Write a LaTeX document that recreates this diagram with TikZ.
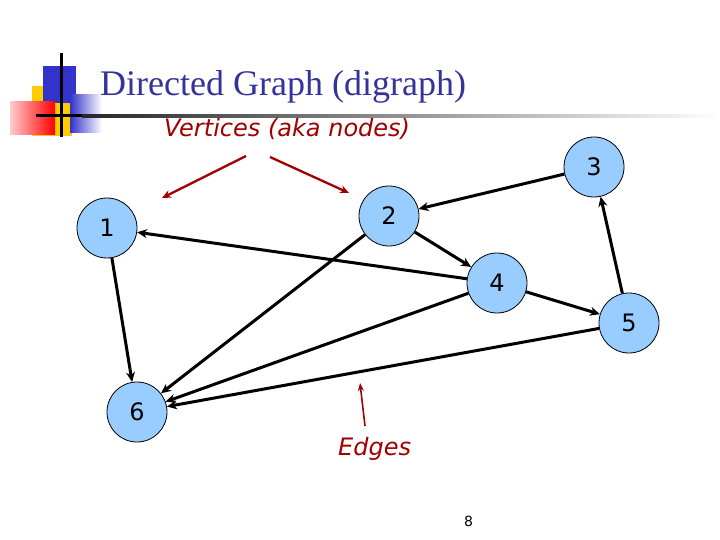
\documentclass[tikz,border=0pt]{standalone}
\usepackage{fontspec}
\setmainfont{Liberation Serif}
\newfontfamily\vfont{DejaVu Sans}
\usetikzlibrary{arrows.meta}
\definecolor{titleblue}{HTML}{333399}
\definecolor{nodeblue}{HTML}{99CCFF}
\definecolor{darkred}{HTML}{A00000}
\definecolor{logoblue}{HTML}{3333CC}
\definecolor{logoyellow}{HTML}{FFCC00}
\tikzset{
  vertex/.style={circle, draw=black, line width=0.8pt, fill=nodeblue, minimum size=60pt, inner sep=0pt, font=\vfont\fontsize{24}{28}\selectfont},
  edge/.style={draw=black, line width=3pt, -{Stealth[length=10pt,width=9pt]}},
  redarrow/.style={draw=darkred, line width=2.3pt, -{Stealth[length=9pt,width=8pt]}},
  redthin/.style={draw=darkred, line width=1.6pt, -{Stealth[length=8pt,width=6pt]}},
  redlabel/.style={text=darkred, font=\vfont\itshape\fontsize{24}{28}\selectfont, inner sep=0pt, anchor=base west}
}
\begin{document}
\begin{tikzpicture}[x=1pt,y=-1pt]
\useasboundingbox[fill=white] (0,0) rectangle (720,540);
% logo
\fill[logoyellow] (32,86) rectangle (72,136);
\fill[logoblue] (43,66) rectangle (76,103);
\shade[left color=red!20, right color=red] (10,102) rectangle (55,135);
\shade[left color=logoblue, right color=white] (70,95) rectangle (102,133);
\fill[black] (59.5,53) rectangle (62.5,137);
\fill[black] (36,114.5) rectangle (82,117.5);
\shade[left color=black!85, right color=white] (82,114.5) rectangle (720,117.5);
% title
\node[anchor=base west, inner sep=0pt, text=titleblue, font=\fontsize{36}{40}\selectfont] (title) at (100,96) {Directed Graph (digraph)};
% labels
\node[redlabel] (vlabel) at (164,137) {Vertices (aka nodes)};
\node[redlabel] (elabel) at (338,455) {Edges};
\node[font=\vfont\fontsize{14}{16}\selectfont, inner sep=0pt] (page) at (468.5,521.5) {8};
% vertices
\node[vertex] (n1) at (107,228) {1};
\node[vertex] (n2) at (389,216) {2};
\node[vertex] (n3) at (594,167) {3};
\node[vertex] (n4) at (497,283) {4};
\node[vertex] (n5) at (629,323) {5};
\node[vertex] (n6) at (137,412) {6};
% edges
\draw[edge] (n3) -- (n2);
\draw[edge] (n4) -- (n1);
\draw[edge] (n2) -- (n4);
\draw[edge] (n4) -- (n5);
\draw[edge] (n5) -- (n3);
\draw[edge] (n1) -- (n6);
\draw[edge] (n2) -- (n6);
\draw[edge] (n4) -- (n6);
\draw[edge] (n5) -- (n6);
% red arrows
\coordinate (va) at (246,156);
\coordinate (vat) at (162,198);
\coordinate (vb) at (270,157);
\coordinate (vbt) at (349,193);
\coordinate (ea) at (365,426);
\coordinate (eat) at (360,383);
\draw[redarrow] (va) -- (vat);
\draw[redarrow] (vb) -- (vbt);
\draw[redthin] (ea) -- (eat);
\end{tikzpicture}
\end{document}
